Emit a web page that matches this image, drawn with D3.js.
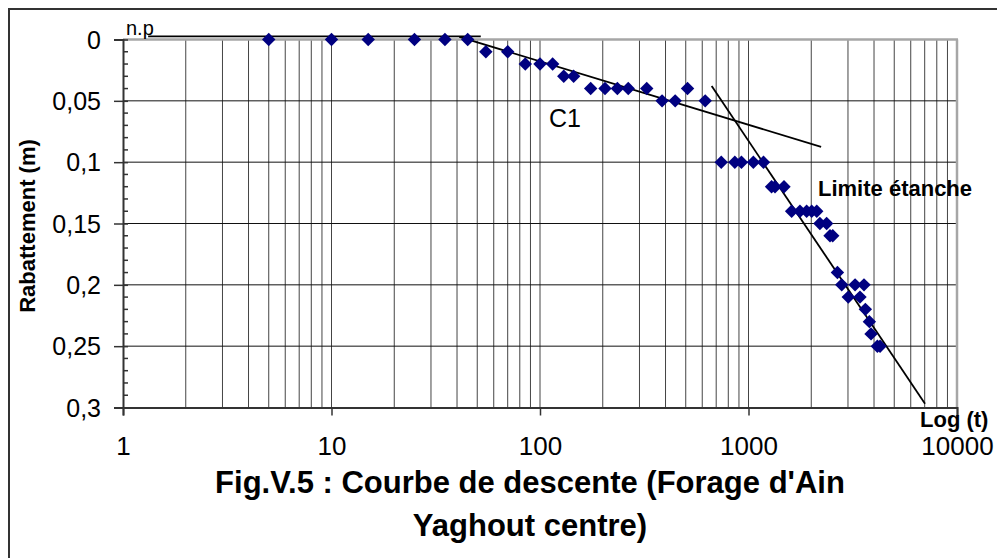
<!DOCTYPE html>
<html>
<head>
<meta charset="utf-8">
<script src="https://cdn.jsdelivr.net/npm/d3@7"></script>
<style>
  html, body { margin: 0; padding: 0; background: #fff; }
  svg { display: block; }
  text { font-family: "Liberation Sans", Arial, sans-serif; }
</style>
</head>
<body>
<svg id="chart" width="997" height="558"></svg>
<script>
// ---- data ----
const timeValues = [5,10,15,25,35,45,55,70,85,100,115,130,145,175,205,235,265,325,385,445,510,620,
  740,860,925,1055,1180,1290,1340,1480,1610,1765,1900,2010,2125,2200,2370,2460,2535,2670,2800,3010,
  3245,3425,3580,3635,3800,3870,4150,4275];
const drawdownValues = [0,0,0,0,0,0,0.01,0.01,0.02,0.02,0.02,0.03,0.03,0.04,0.04,0.04,0.04,0.04,0.05,0.05,
  0.04,0.05,0.1,0.1,0.1,0.1,0.1,0.12,0.12,0.12,0.14,0.14,0.14,0.14,0.14,0.15,0.15,0.16,0.16,0.19,0.2,0.21,
  0.2,0.21,0.2,0.22,0.23,0.24,0.25,0.25];

// fitted straight lines (time, drawdown)
const npLineT = [1.32, 52];
const npLineS = [-0.0025, -0.0025];
const c1LineT = [41, 2230];
const c1LineS = [-0.0022, 0.0875];
const limitLineT = [666, 7025];
const limitLineS = [0.038, 0.297];

const xTickValues = [1, 10, 100, 1000, 10000];
const xTickLabels = ["1", "10", "100", "1000", "10000"];
const yTickValues = [0, 0.05, 0.1, 0.15, 0.2, 0.25, 0.3];
const yTickLabels = ["0", "0,05", "0,1", "0,15", "0,2", "0,25", "0,3"];

const titleLines = ["Fig.V.5 : Courbe de descente (Forage d'Ain", "Yaghout centre)"];
const yAxisTitle = "Rabattement (m)";
const xAxisTitle = "Log (t)";

// ---- drawing ----
const svg = d3.select("#chart");
const X0 = 123, X1 = 957, Y0 = 39.5, Y1 = 407.5;
const x = d3.scaleLog().domain([1, 10000]).range([X0, X1]);
const y = d3.scaleLinear().domain([0, 0.3]).range([Y0, Y1]);

// outer frame (left & top visible)
svg.append("rect").attr("x", 9).attr("y", 9).attr("width", 1100).attr("height", 700)
  .attr("fill", "none").attr("stroke", "#333").attr("stroke-width", 2);

// vertical log grid
const minorX = [];
for (let d = 1; d <= 1000; d *= 10) for (let k = 1; k <= 9; k++) { const v = d * k; if (v > 1) minorX.push(v); }
svg.append("g").selectAll("line").data(minorX).join("line")
  .attr("x1", d => x(d)).attr("x2", d => x(d)).attr("y1", Y0).attr("y2", Y1)
  .attr("stroke", "#444").attr("stroke-width", 1);

// horizontal grid
svg.append("g").selectAll("line").data(yTickValues.slice(1, -1)).join("line")
  .attr("x1", X0).attr("x2", X1).attr("y1", d => y(d)).attr("y2", d => y(d))
  .attr("stroke", "#111").attr("stroke-width", 1);

// plot border top & right (gray)
svg.append("line").attr("x1", X0).attr("x2", X1 + 1).attr("y1", Y0).attr("y2", Y0)
  .attr("stroke", "#a6a6a6").attr("stroke-width", 2.5);
svg.append("line").attr("x1", X1).attr("x2", X1).attr("y1", Y0).attr("y2", Y1)
  .attr("stroke", "#a6a6a6").attr("stroke-width", 2.5);

// Y axis
const yAxis = d3.axisLeft(y).tickValues(yTickValues).tickSize(9).tickPadding(13)
  .tickFormat((d, i) => yTickLabels[i]);
const gy = svg.append("g").attr("transform", `translate(${X0},0)`).call(yAxis);
gy.select(".domain").attr("stroke", "#333").attr("stroke-width", 2);
gy.selectAll(".tick line").attr("stroke", "#333").attr("stroke-width", 1.5).attr("x2", 5).attr("x1", -9);
gy.selectAll(".tick text").attr("font-size", 25).attr("fill", "#000").attr("dy", "0.35em");
// minor y ticks (inside)
const minorY = d3.range(0, 0.3001, 0.01).filter(v => Math.abs(v / 0.05 - Math.round(v / 0.05)) > 1e-6);
svg.append("g").selectAll("line").data(minorY).join("line")
  .attr("x1", X0).attr("x2", X0 + 5).attr("y1", d => y(d)).attr("y2", d => y(d))
  .attr("stroke", "#333").attr("stroke-width", 1.5);

// X axis
const xAxis = d3.axisBottom(x).tickValues(xTickValues).tickSize(8).tickFormat((d, i) => xTickLabels[i]);
const gx = svg.append("g").attr("transform", `translate(0,${Y1})`).call(xAxis);
gx.select(".domain").attr("stroke", "#333").attr("stroke-width", 2);
gx.selectAll(".tick line").attr("stroke", "#333").attr("stroke-width", 1.5);
gx.selectAll(".tick text").attr("font-size", 26).attr("fill", "#000").attr("y", 47).attr("dy", 0);

// fitted lines
const line = d3.line().x(d => x(d[0])).y(d => y(d[1]));
[[npLineT, npLineS], [c1LineT, c1LineS], [limitLineT, limitLineS]].forEach(([t, s]) => {
  svg.append("path").datum(t.map((v, i) => [v, s[i]])).attr("d", line)
    .attr("fill", "none").attr("stroke", "#000").attr("stroke-width", 1.8);
});

// data points
const pts = timeValues.map((t, i) => [t, drawdownValues[i]]);
const sym = d3.symbol().type(d3.symbolSquare).size(90);
svg.append("g").selectAll("path").data(pts).join("path")
  .attr("d", sym)
  .attr("transform", d => `translate(${x(d[0])},${y(d[1])}) rotate(45)`)
  .attr("fill", "#000080");

// annotations
svg.append("text").attr("x", 126).attr("y", 35).attr("font-size", 20).text("n.p");
svg.append("text").attr("x", 549).attr("y", 127).attr("font-size", 25).text("C1");
svg.append("text").attr("x", 818).attr("y", 196).attr("font-size", 22).attr("font-weight", "bold").text("Limite étanche");
svg.append("text").attr("x", 920).attr("y", 427).attr("font-size", 22).attr("font-weight", "bold").text(xAxisTitle);

// y axis title
svg.append("text").attr("transform", "translate(35,226) rotate(-90)")
  .attr("text-anchor", "middle").attr("font-size", 22).attr("font-weight", "bold").text(yAxisTitle);

// chart title
svg.append("g").selectAll("text").data(titleLines).join("text")
  .attr("x", 530).attr("y", (d, i) => 493 + i * 43)
  .attr("text-anchor", "middle").attr("font-size", 31).attr("font-weight", "bold").text(d => d);
</script>
</body>
</html>
